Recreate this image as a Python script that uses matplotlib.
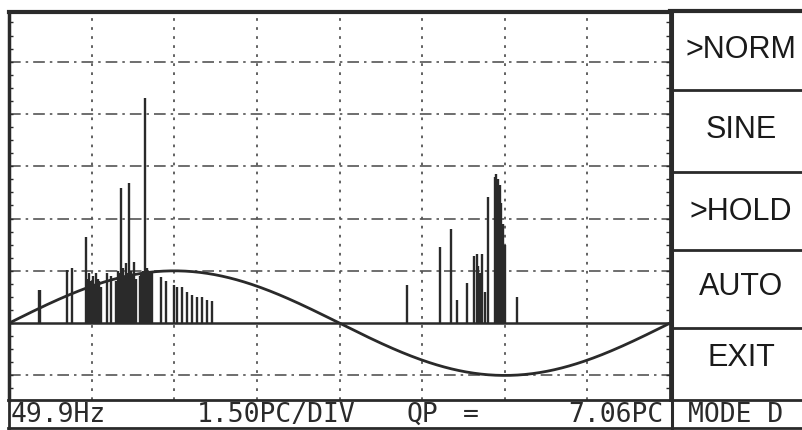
import numpy as np
import matplotlib.pyplot as plt
from matplotlib.ticker import MultipleLocator

# phase-resolved partial discharge display (phase in deg, magnitude in divisions)
pos_phase = [16.2, 17.0, 31.6, 34.4, 42.0, 42.8, 43.6, 44.7, 45.5, 46.4, 47.3,
             48.2, 49.1, 50.0, 53.5, 55.6, 58.4, 59.3, 60.2, 61.1, 62.0, 62.9,
             63.8, 64.7, 65.5, 66.4, 67.3, 68.2, 69.3, 71.5, 72.0, 72.9, 73.6,
             74.2, 75.1, 76.0, 76.9, 78.0, 82.9, 85.6, 90.0, 91.6, 94.4, 97.1,
             99.8, 102.5, 105.3, 108.0, 110.7]
pos_mag = [0.63, 0.63, 1.01, 1.05, 1.65, 0.85, 0.95, 0.80, 0.90, 0.75, 0.95,
           0.85, 0.80, 0.70, 0.95, 0.90, 0.80, 1.00, 0.95, 2.58, 1.05, 0.90,
           1.15, 0.95, 2.68, 1.00, 0.90, 1.17, 0.85, 0.90, 0.95, 1.00, 0.90,
           4.30, 1.05, 1.00, 0.95, 0.95, 0.88, 0.80, 0.73, 0.70, 0.70, 0.60,
           0.53, 0.50, 0.50, 0.45, 0.42]

neg_phase = [217.0, 234.6, 240.6, 243.8, 249.3, 253.1, 254.7, 255.6, 256.5,
             257.5, 259.1, 260.7, 264.5, 265.4, 266.3, 267.2, 268.1, 269.0,
             270.0, 276.6]
neg_mag = [0.73, 1.45, 1.80, 0.44, 0.77, 1.28, 1.33, 1.10, 0.95, 1.33, 0.60,
           2.42, 2.80, 2.85, 2.75, 2.65, 2.30, 1.90, 1.50, 0.50]

sine_amp = 1.0  # reference sine, in divisions

status_left = ['49.9Hz', '1.50PC/DIV', 'QP', '=', '7.06PC']
status_right = 'MODE D'
menu_items = ['>NORM', 'SINE', '>HOLD', 'AUTO', 'EXIT']

W, H = 802, 430
fig = plt.figure(figsize=(W / 100, H / 100), dpi=100)
ink = '#2a2a2a'

# main trace area
ax = fig.add_axes([9 / W, (H - 400) / H, 661 / W, (400 - 12) / H])
ax.set_xlim(0, 360)
ax.set_ylim(-1.47, 5.95)
for y in [-1, 1, 2, 3, 4, 5]:
    ax.axhline(y, color='#555555', lw=1.2, ls=(0, (7, 3, 1.5, 3)), zorder=1)
for x in range(45, 360, 45):
    ax.axvline(x, color='#555555', lw=1.3, ls=(0, (1.5, 3.5)), zorder=1)
ax.axhline(0, color=ink, lw=1.8, zorder=3)

ax.vlines(pos_phase, 0, pos_mag, color=ink, lw=1.7, zorder=2)
ax.vlines(neg_phase, 0, neg_mag, color=ink, lw=1.7, zorder=2)

ph = np.linspace(0, 360, 361)
ax.plot(ph, sine_amp * np.sin(np.radians(ph)), color=ink, lw=2.0, zorder=3)

ax.set_xticks([])
ax.set_yticks([])
ax.yaxis.set_minor_locator(MultipleLocator(0.25))
ax.tick_params(axis='y', which='minor', direction='in', length=3, width=1,
               left=True, right=True, color=ink)
for side in ['left', 'top', 'right']:
    ax.spines[side].set_color(ink)
ax.spines['left'].set_linewidth(2.5)
ax.spines['top'].set_linewidth(3)
ax.spines['right'].set_linewidth(2)
ax.spines['bottom'].set_visible(False)

# frame, menu and status bar in pixel coordinates
ov = fig.add_axes([0, 0, 1, 1], facecolor='none')
ov.set_xlim(0, W)
ov.set_ylim(H, 0)
ov.axis('off')
ov.plot([670, W], [11, 11], color=ink, lw=3)
ov.plot([8, W], [400, 400], color=ink, lw=2)
ov.plot([8, W], [428, 428], color=ink, lw=2)
ov.plot([9, 9], [400, 428], color=ink, lw=2)
ov.plot([672, 672], [11, 428], color=ink, lw=2.2)
for y in [90, 172, 250, 328]:
    ov.plot([672, W], [y, y], color=ink, lw=2)

menu_y = [50, 130, 212, 287, 358]
for label, y in zip(menu_items, menu_y):
    ov.text(741, y, label, ha='center', va='center', fontsize=22,
            family='Liberation Sans', color='#1a1a1a')

status_x = [11, 197, 407, 463, 568]
for label, x in zip(status_left, status_x):
    ov.text(x, 415, label, ha='left', va='center', fontsize=19,
            family='DejaVu Sans Mono', color=ink)
ov.text(688, 415, status_right, ha='left', va='center', fontsize=19,
        family='DejaVu Sans Mono', color=ink)

fig.savefig('out.png', dpi=100)
